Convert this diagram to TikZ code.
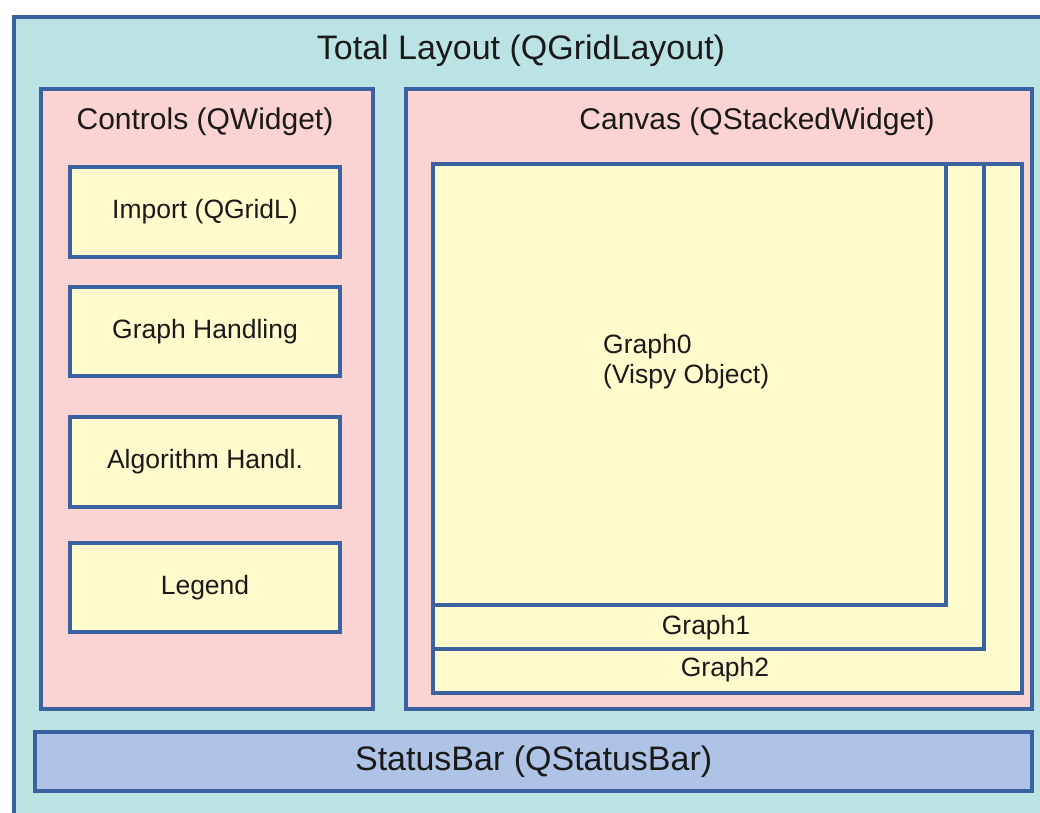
\documentclass[tikz,border=0pt]{standalone}
\usepackage{fontspec}
\setmainfont{Liberation Sans}
\usepackage{xcolor}
\usetikzlibrary{positioning}
\definecolor{Frame}{HTML}{3A62A0}
\definecolor{Teal}{HTML}{BBE3E4}
\definecolor{Pink}{HTML}{FAD3D2}
\definecolor{Cream}{HTML}{FFFBCC}
\definecolor{BarBlue}{HTML}{AEC3E5}
\definecolor{Ink}{HTML}{1A1A1A}

\begin{document}
\begin{tikzpicture}[x=1pt,y=-1pt,
    box/.style={draw=Frame,line width=4.3pt,inner sep=0pt,anchor=north west,text=Ink},
    ctl/.style={box,fill=Cream,minimum width=270pt,anchor=center,
      font=\fontsize{26.5}{30}\selectfont},
    head/.style={inner sep=0pt,text=Ink,font=\fontsize{30}{34}\selectfont},
    lbl/.style={inner sep=0pt,text=Ink,font=\fontsize{26.5}{30}\selectfont}]
  \clip (0,0) rectangle (1040,812);
  \fill[white] (0,0) rectangle (1040,812);
  % outer layout
  \node[box,fill=Teal,minimum width=1060pt,minimum height=830pt] (total) at (12,15) {};
  \node[inner sep=0pt,text=Ink,font=\fontsize{34}{38}\selectfont] (totaltitle) at (521,51) {Total Layout (QGridLayout)};
  % controls column
  \node[box,fill=Pink,minimum width=332pt,minimum height=620pt] (controls) at (39,87) {};
  \node[head] (controlstitle) at (205,122) {Controls (QWidget)};
  \node[ctl,minimum height=90pt] (import) at (205,212) {Import (QGridL)};
  \node[ctl,minimum height=89pt] (graphh) at (205,331.5) {Graph Handling};
  \node[ctl,minimum height=90pt] (algo) at (205,462) {Algorithm Handl.};
  \node[ctl,minimum height=89pt] (legend) at (205,587.5) {Legend};
  % canvas with stacked graphs
  \node[box,fill=Pink,minimum width=626pt,minimum height=620pt] (canvas) at (404,87) {};
  \node[head] (canvastitle) at (757,122) {Canvas (QStackedWidget)};
  \node[box,fill=Cream,minimum width=589pt,minimum height=529pt] (graph2) at (431,162) {};
  \node[box,fill=Cream,minimum width=551pt,minimum height=485pt] (graph1) at (431,162) {};
  \node[box,fill=Cream,minimum width=513pt,minimum height=441pt] (graph0) at (431,162) {};
  \node[lbl,align=left,anchor=west] (graph0text) at (603,362) {Graph0\\(Vispy Object)};
  \node[lbl] (graph1text) at (706,628) {Graph1};
  \node[lbl] (graph2text) at (725,670) {Graph2};
  % status bar
  \node[box,fill=BarBlue,minimum width=997pt,minimum height=59pt] (status) at (33,730) {};
  \node[inner sep=0pt,text=Ink,font=\fontsize{34}{38}\selectfont] (statustext) at (status.center) {StatusBar (QStatusBar)};
\end{tikzpicture}
\end{document}
